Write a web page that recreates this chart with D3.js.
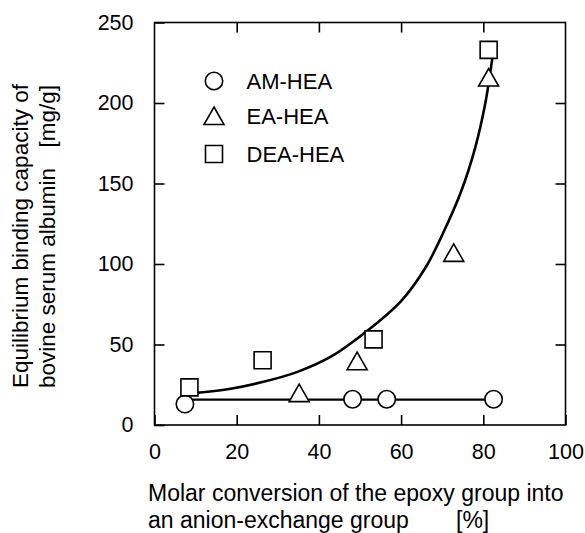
<!DOCTYPE html>
<html>
<head>
<meta charset="utf-8">
<script src="https://cdn.jsdelivr.net/npm/d3@7"></script>
<style>
  body { margin: 0; background: #fff; }
  text { font-family: "Liberation Sans", Arial, sans-serif; fill: #000; }
</style>
</head>
<body>
<div id="wrapper"></div>
<script>
// Data
const xTicks = [0, 20, 40, 60, 80, 100]
const yTicks = [0, 50, 100, 150, 200, 250]

const amX = [7.4, 48.2, 56.5, 82.5]
const amY = [13, 16, 16, 16]
const eaX = [35.2, 49.3, 72.8, 81.3]
const eaY = [19.5, 39.3, 106.6, 215.5]
const deaX = [8.5, 26.3, 53.3, 81.3]
const deaY = [23.4, 40.2, 53.2, 233]

// fitted lines as drawn in the figure
const amLineX = [8.5, 82.5]
const amLineY = [15.8, 15.8]
const curveX = [10.4, 18.5, 26, 34.8, 42.9, 51, 60, 66, 70, 74.6, 78, 80.5, 82.2]
const curveY = [20, 22.5, 26.5, 33, 42.4, 57, 77, 98, 118, 145, 172, 200, 228]

const legendLabels = ["AM-HEA", "EA-HEA", "DEA-HEA"]

const dimensions = {
  width: 585,
  height: 533,
  margin: { top: 22.5, right: 19.5, bottom: 108, left: 154.5 }
}
dimensions.boundedWidth = dimensions.width - dimensions.margin.left - dimensions.margin.right
dimensions.boundedHeight = dimensions.height - dimensions.margin.top - dimensions.margin.bottom

const wrapper = d3.select("#wrapper")
  .append("svg")
  .attr("width", dimensions.width)
  .attr("height", dimensions.height)

const bounds = wrapper.append("g")
  .attr("transform", `translate(${dimensions.margin.left},${dimensions.margin.top})`)

const xScale = d3.scaleLinear().domain([0, 100]).range([0, dimensions.boundedWidth])
const yScale = d3.scaleLinear().domain([0, 250]).range([dimensions.boundedHeight, 0])

// frame
bounds.append("rect")
  .attr("width", dimensions.boundedWidth)
  .attr("height", dimensions.boundedHeight)
  .attr("fill", "none")
  .attr("stroke", "#000")
  .attr("stroke-width", 1.6)

// axes, ticks point inwards on all four sides
const inner = d => d > 0 && d < 100
bounds.append("g")
  .attr("transform", `translate(0,${dimensions.boundedHeight})`)
  .call(d3.axisBottom(xScale).tickValues(xTicks).tickSize(-10).tickPadding(19).tickFormat(d3.format("d")))
bounds.append("g")
  .call(d3.axisTop(xScale).tickValues(xTicks.filter(inner)).tickSize(-10).tickFormat(""))
bounds.append("g")
  .call(d3.axisLeft(yScale).tickValues(yTicks).tickSize(-10).tickPadding(21).tickFormat(d3.format("d")))
bounds.append("g")
  .attr("transform", `translate(${dimensions.boundedWidth},0)`)
  .call(d3.axisRight(yScale).tickValues(yTicks.filter(d => d > 0 && d < 250)).tickSize(-10).tickFormat(""))

bounds.selectAll(".domain").remove()
bounds.selectAll(".tick line").attr("stroke", "#000").attr("stroke-width", 1.6)
bounds.selectAll(".tick text")
  .attr("font-size", "21.5px")
  .attr("font-family", "Liberation Sans, Arial, sans-serif")
  .attr("fill", "#000")

// lines
const line = d3.line().x(d => xScale(d[0])).y(d => yScale(d[1]))
bounds.append("path")
  .attr("d", line(d3.zip(amLineX, amLineY)))
  .attr("fill", "none").attr("stroke", "#000").attr("stroke-width", 2.2)

bounds.append("path")
  .attr("d", line.curve(d3.curveCatmullRom)(d3.zip(curveX, curveY)))
  .attr("fill", "none").attr("stroke", "#000").attr("stroke-width", 2.6)

// markers
const triPath = "M0,-9.5L10,8L-10,8Z"
const sqPath = "M-8.5,-8.5H8.5V8.5H-8.5Z"

bounds.selectAll(".am")
  .data(d3.zip(amX, amY))
  .join("circle")
  .attr("cx", d => xScale(d[0]))
  .attr("cy", d => yScale(d[1]))
  .attr("r", 8.7)
  .attr("fill", "#fff").attr("stroke", "#000").attr("stroke-width", 1.6)

bounds.selectAll(".ea")
  .data(d3.zip(eaX, eaY))
  .join("path")
  .attr("d", triPath)
  .attr("transform", d => `translate(${xScale(d[0])},${yScale(d[1])})`)
  .attr("fill", "#fff").attr("stroke", "#000").attr("stroke-width", 1.6)

bounds.selectAll(".dea")
  .data(d3.zip(deaX, deaY))
  .join("path")
  .attr("d", sqPath)
  .attr("transform", d => `translate(${xScale(d[0])},${yScale(d[1])})`)
  .attr("fill", "#fff").attr("stroke", "#000").attr("stroke-width", 1.6)

// legend
const legend = wrapper.append("g")
const legendY = [81, 116.5, 154]
legend.append("circle").attr("cx", 214).attr("cy", legendY[0]).attr("r", 8.7)
  .attr("fill", "#fff").attr("stroke", "#000").attr("stroke-width", 1.6)
legend.append("path").attr("d", triPath).attr("transform", `translate(214,${legendY[1]})`)
  .attr("fill", "#fff").attr("stroke", "#000").attr("stroke-width", 1.6)
legend.append("path").attr("d", sqPath).attr("transform", `translate(214,${legendY[2]})`)
  .attr("fill", "#fff").attr("stroke", "#000").attr("stroke-width", 1.6)
legend.selectAll("text")
  .data(legendLabels)
  .join("text")
  .attr("x", 246.5)
  .attr("y", (d, i) => legendY[i])
  .attr("dy", "0.36em")
  .attr("font-size", "22px")
  .text(d => d)

// axis titles
wrapper.append("text")
  .attr("x", 148).attr("y", 500.5)
  .attr("font-size", "23px")
  .text("Molar conversion of the epoxy group into")
wrapper.append("text")
  .attr("x", 148).attr("y", 527.5)
  .attr("font-size", "23px")
  .text("an anion-exchange group")
wrapper.append("text")
  .attr("x", 456).attr("y", 527.5)
  .attr("font-size", "23px")
  .text("[%]")

wrapper.append("text")
  .attr("transform", "rotate(-90)")
  .attr("x", -388).attr("y", 28)
  .attr("font-size", "22.5px")
  .text("Equilibrium binding capacity of")
wrapper.append("text")
  .attr("transform", "rotate(-90)")
  .attr("x", -388).attr("y", 55)
  .attr("font-size", "22.5px")
  .text("bovine serum albumin")
wrapper.append("text")
  .attr("transform", "rotate(-90)")
  .attr("x", -85).attr("y", 55)
  .attr("text-anchor", "end")
  .attr("font-size", "22.5px")
  .text("[mg/g]")
</script>
</body>
</html>
